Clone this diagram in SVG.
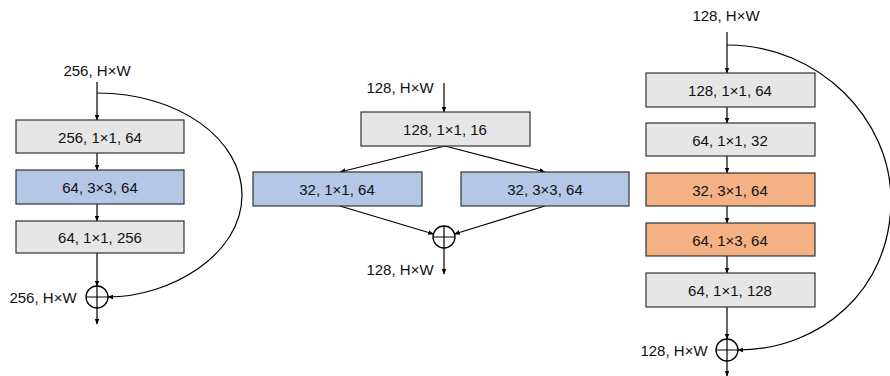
<svg xmlns="http://www.w3.org/2000/svg" width="890" height="376" viewBox="0 0 890 376">
<defs>
<marker id="ah" viewBox="0 0 10 10" refX="9" refY="5" markerWidth="6" markerHeight="6" orient="auto" markerUnits="userSpaceOnUse">
<path d="M0,1 L10,5 L0,9 z" fill="#000"/>
</marker>
<style>
.box{stroke:#333;stroke-width:1.2}
.g{fill:#e6e6e6}.b{fill:#b4c7e7}.o{fill:#f4b183}
text{font-family:"Liberation Sans",Arial,sans-serif;font-size:15px;fill:#111}
.c{text-anchor:middle;dominant-baseline:central}
.l{stroke:#000;stroke-width:1.2;fill:none}
.a{marker-end:url(#ah)}
.sum{fill:#fff;stroke:#000;stroke-width:1.3}
</style>
</defs>
<rect width="890" height="376" fill="#fff"/>

<!-- labels -->
<g id="labels">
<text x="97" y="70" class="c">256, H×W</text>
<text x="43" y="297" class="c">256, H×W</text>
<text x="400" y="87" class="c">128, H×W</text>
<text x="400" y="269" class="c">128, H×W</text>
<text x="726" y="15" class="c">128, H×W</text>
<text x="674" y="350" class="c">128, H×W</text>
</g>

<!-- connectors -->
<g id="connectors">
<line class="l a" x1="97" y1="82" x2="97" y2="120"/>
<line class="l a" x1="97" y1="153" x2="97" y2="170"/>
<line class="l a" x1="97" y1="204" x2="97" y2="221"/>
<line class="l a" x1="97" y1="253" x2="97" y2="286"/>
<line class="l a" x1="97" y1="308" x2="97" y2="324"/>
<path class="l a" d="M97,93 C180,93 242,140 242,195 C242,255 170,297 108,297"/>

<line class="l a" x1="444" y1="83" x2="444" y2="112"/>
<line class="l a" x1="445" y1="146" x2="340" y2="172"/>
<line class="l a" x1="445" y1="146" x2="545" y2="172"/>
<line class="l a" x1="340" y1="206" x2="433.5" y2="234"/>
<line class="l a" x1="545" y1="206" x2="454.5" y2="234"/>
<line class="l a" x1="444" y1="248" x2="444" y2="274"/>

<line class="l a" x1="727" y1="32" x2="727" y2="73"/>
<line class="l a" x1="727" y1="107" x2="727" y2="123"/>
<line class="l a" x1="727" y1="156" x2="727" y2="173"/>
<line class="l a" x1="727" y1="206" x2="727" y2="223"/>
<line class="l a" x1="727" y1="256" x2="727" y2="273"/>
<line class="l a" x1="727" y1="307" x2="727" y2="339"/>
<line class="l a" x1="727" y1="361" x2="727" y2="376"/>
<path class="l a" d="M727,45 C820,45 891,120 891,200 C891,290 820,350 738,350"/>
</g>

<!-- left block -->
<g id="n_l1"><rect class="box g" x="16" y="120" width="168" height="33"/><text x="100" y="137" class="c">256, 1×1, 64</text></g>
<g id="n_l2"><rect class="box b" x="16" y="170" width="168" height="34"/><text x="100" y="187" class="c">64, 3×3, 64</text></g>
<g id="n_l3"><rect class="box g" x="16" y="221" width="168" height="32"/><text x="100" y="237" class="c">64, 1×1, 256</text></g>
<g id="n_lsum"><circle class="sum" cx="97" cy="297" r="11"/><path class="l" d="M86,297 H108 M97,286 V308"/></g>

<!-- middle block -->
<g id="n_m1"><rect class="box g" x="361" y="112" width="169" height="34"/><text x="445" y="129" class="c">128, 1×1, 16</text></g>
<g id="n_m2"><rect class="box b" x="253" y="172" width="169" height="34"/><text x="337" y="189" class="c">32, 1×1, 64</text></g>
<g id="n_m3"><rect class="box b" x="461" y="172" width="168" height="34"/><text x="545" y="189" class="c">32, 3×3, 64</text></g>
<g id="n_msum"><circle class="sum" cx="444" cy="237" r="11"/><path class="l" d="M433,237 H455 M444,226 V248"/></g>

<!-- right block -->
<g id="n_r1"><rect class="box g" x="646" y="73" width="169" height="34"/><text x="730" y="90" class="c">128, 1×1, 64</text></g>
<g id="n_r2"><rect class="box g" x="646" y="123" width="169" height="33"/><text x="730" y="140" class="c">64, 1×1, 32</text></g>
<g id="n_r3"><rect class="box o" x="646" y="173" width="169" height="33"/><text x="730" y="190" class="c">32, 3×1, 64</text></g>
<g id="n_r4"><rect class="box o" x="646" y="223" width="169" height="33"/><text x="730" y="240" class="c">64, 1×3, 64</text></g>
<g id="n_r5"><rect class="box g" x="646" y="273" width="169" height="34"/><text x="730" y="290" class="c">64, 1×1, 128</text></g>
<g id="n_rsum"><circle class="sum" cx="727" cy="350" r="11"/><path class="l" d="M716,350 H738 M727,339 V361"/></g>
</svg>
